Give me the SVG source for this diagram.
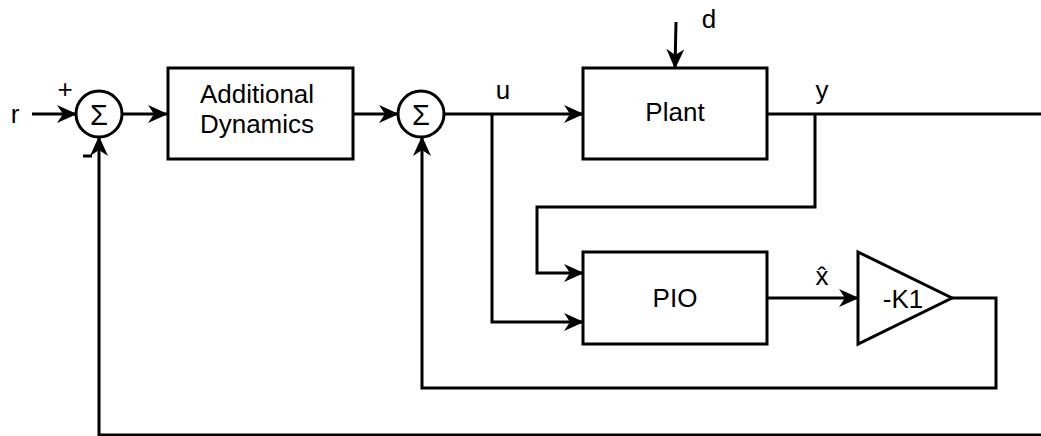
<svg xmlns="http://www.w3.org/2000/svg" width="1041" height="436" viewBox="0 0 1041 436">
<defs>
<marker id="arr" viewBox="0 0 20 18" refX="19" refY="9" markerWidth="20" markerHeight="18" markerUnits="userSpaceOnUse" orient="auto">
<path d="M0,0 L20,9 L0,18 L6,9 z" fill="#000"/>
</marker>
<style>
.box{fill:#fff;stroke:#000;stroke-width:3}
.ln{fill:none;stroke:#000;stroke-width:3}
.t{font-family:"Liberation Sans",Arial,sans-serif;font-size:26px;fill:#000;text-anchor:middle}
.s{font-family:"Liberation Sans",Arial,sans-serif;font-size:29px;fill:#000;text-anchor:middle}
</style>
</defs>
<rect width="1041" height="436" fill="#fff"/>
<g id="connectors">
<line class="ln" x1="32" y1="114" x2="76" y2="114" marker-end="url(#arr)"/>
<line class="ln" x1="122" y1="114" x2="167" y2="114" marker-end="url(#arr)"/>
<line class="ln" x1="353" y1="114" x2="398" y2="114" marker-end="url(#arr)"/>
<line class="ln" x1="444" y1="114" x2="583" y2="114" marker-end="url(#arr)"/>
<line class="ln" x1="676" y1="22" x2="675" y2="68" marker-end="url(#arr)"/>
<line class="ln" x1="767" y1="114" x2="1041" y2="114"/>
<polyline class="ln" points="815,114 815,207 537,207 537,273 583,273" marker-end="url(#arr)"/>
<polyline class="ln" points="492,114 492,322 583,322" marker-end="url(#arr)"/>
<line class="ln" x1="767" y1="298" x2="858" y2="298" marker-end="url(#arr)"/>
<polyline class="ln" points="952,298 996,298 996,388 422,388 422,137" marker-end="url(#arr)"/>
<polyline class="ln" points="1041,435 99,435 99,137" marker-end="url(#arr)"/>
</g>
<g id="sum1">
<circle class="box" cx="99" cy="114" r="23"/>
<text class="s" x="99" y="125">Σ</text>
</g>
<g id="additional-dynamics">
<rect class="box" x="168" y="68" width="185" height="91"/>
<text class="t" x="257" y="103">Additional</text>
<text class="t" x="257" y="133">Dynamics</text>
</g>
<g id="sum2">
<circle class="box" cx="421" cy="114" r="23"/>
<text class="s" x="421" y="125">Σ</text>
</g>
<g id="plant">
<rect class="box" x="583" y="68" width="184" height="91"/>
<text class="t" x="675" y="121">Plant</text>
</g>
<g id="pio">
<rect class="box" x="583" y="252" width="184" height="92"/>
<text class="t" x="675" y="307">PIO</text>
</g>
<g id="gain">
<polygon class="box" points="858,252 952,298 858,344"/>
<text class="t" x="903" y="308">-K1</text>
</g>
<g id="labels">
<text class="t" x="15" y="123">r</text>
<text class="t" x="65" y="98">+</text>
<line x1="83" y1="156" x2="92" y2="156" stroke="#000" stroke-width="3"/>
<text class="t" x="503" y="99">u</text>
<text class="t" x="709" y="28">d</text>
<text class="t" x="822" y="99">y</text>
<text class="t" x="822" y="285">x̂</text>
</g>
</svg>
